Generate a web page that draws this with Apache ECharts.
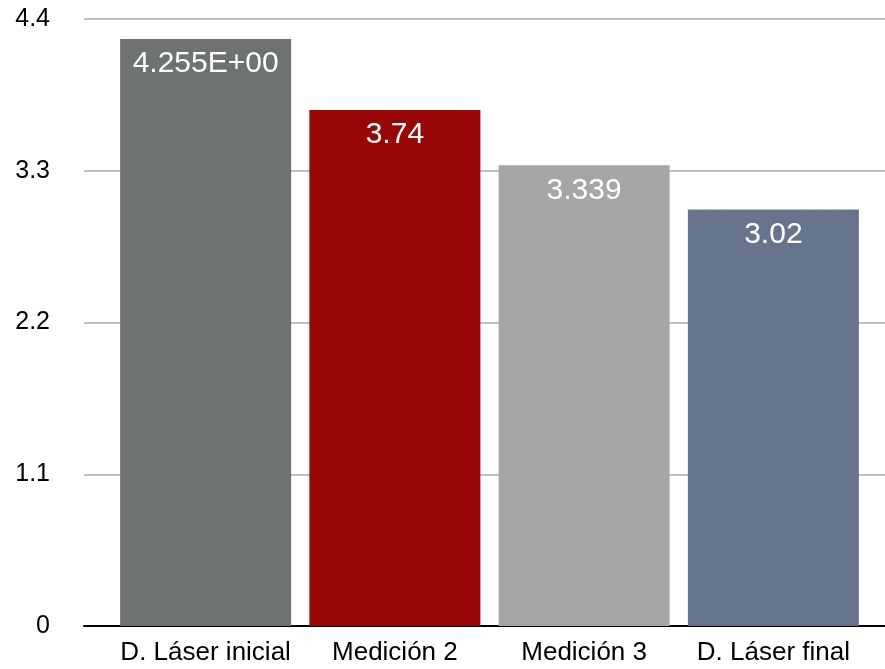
<!DOCTYPE html>
<html><head><meta charset="utf-8">
<script src="https://cdn.jsdelivr.net/npm/echarts@6/dist/echarts.min.js"></script>
<style>html,body{margin:0;padding:0;background:#fff}#c{width:885px;height:669px}</style>
</head><body><div id="c"></div>
<script>
const categories = ['D. Láser inicial', 'Medición 2', 'Medición 3', 'D. Láser final'];
const values = [4.255, 3.74, 3.339, 3.02];
const valueLabels = ['4.255E+00', '3.74', '3.339', '3.02'];
const barColors = ['#6e7370', '#990606', '#a6a6a6', '#66748e'];
const yTickLabels = ['0', '1.1', '2.2', '3.3', '4.4'];
const yMin = 0, yMax = 4.4, yStep = 1.1;

const FONT = '"Liberation Sans", Arial, sans-serif';
const chart = echarts.init(document.getElementById('c'), null, {renderer: 'canvas'});
chart.setOption({
  animation: false,
  backgroundColor: '#fff',
  grid: [
    {left: 84, right: 0, top: 19, bottom: 43},
    {left: 111, right: 17, top: 19, bottom: 43}
  ],
  xAxis: [
    {type: 'category', gridIndex: 0, data: [''], axisLine: {show: true, lineStyle: {color: '#000', width: 2}},
     axisTick: {show: false}, axisLabel: {show: false}},
    {type: 'category', gridIndex: 1, data: categories, axisLine: {show: false}, axisTick: {show: false},
     axisLabel: {color: '#000', fontSize: 26, fontFamily: FONT, margin: 14, interval: 0}}
  ],
  yAxis: [
    {type: 'value', gridIndex: 0, min: yMin, max: yMax, interval: yStep,
     axisLine: {show: false}, axisTick: {show: false},
     splitLine: {show: true, lineStyle: {color: '#bfbfbf', width: 2}},
     axisLabel: {color: '#000', fontSize: 25, fontFamily: FONT, margin: 34,
       formatter: (v) => yTickLabels[Math.round((v - yMin) / yStep)]}},
    {type: 'value', gridIndex: 1, min: yMin, max: yMax, interval: yStep, show: false, splitLine: {show: false}}
  ],
  series: [{
    type: 'bar', xAxisIndex: 1, yAxisIndex: 1, barWidth: 171,
    data: values.map((v, i) => ({value: v, itemStyle: {color: barColors[i]}})),
    label: {show: true, position: 'insideTop', distance: 10, color: '#fff', fontSize: 30, fontFamily: FONT,
      formatter: (p) => valueLabels[p.dataIndex]}
  }]
});
</script></body></html>
